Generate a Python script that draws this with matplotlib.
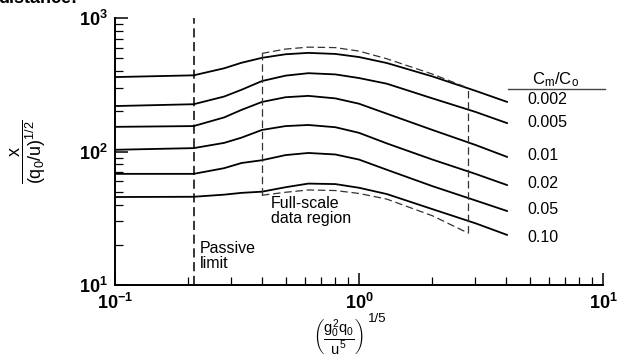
import matplotlib
matplotlib.use("Agg")
import matplotlib.pyplot as plt
import numpy as np

plt.rcParams['font.family'] = ['Liberation Sans', 'DejaVu Sans']
plt.rcParams['mathtext.fontset'] = 'custom'
plt.rcParams['mathtext.rm'] = 'Liberation Sans'
plt.rcParams['mathtext.it'] = 'Liberation Sans'
plt.rcParams['mathtext.bf'] = 'Liberation Sans:bold'

# ---- data ----
x_pts = [0.1, 0.21, 0.28, 0.33, 0.40, 0.50, 0.62, 0.80, 1.0, 1.3, 2.0, 3.0, 4.05]
ratios = ['0.002', '0.005', '0.01', '0.02', '0.05', '0.10']
y_0002 = [361, 372, 420, 462, 503, 535, 548, 538, 510, 460, 365, 285, 235]
y_0005 = [219, 226, 258, 290, 337, 370, 386, 378, 355, 322, 250, 198, 163]
y_001 = [153, 155, 180, 205, 235, 255, 261, 250, 228, 192, 145, 112, 91]
y_002 = [103, 106, 116, 127, 145, 155, 158, 152, 138, 115, 87, 68, 56]
y_005 = [68, 68, 75, 82, 86, 94, 97.5, 95, 87, 73, 55, 43, 35.8]
y_010 = [45.6, 45.8, 47.5, 49, 50, 54, 57.5, 57, 53.5, 48, 37, 29, 23.7]
curves = [y_0002, y_0005, y_001, y_002, y_005, y_010]

box_x = [0.40, 0.50, 0.62, 0.80, 1.0, 1.3, 2.0, 2.8]
box_top = [543, 585, 605, 600, 565, 495, 380, 299]
box_bot = [47, 49.5, 51.5, 51, 48.5, 44, 33, 24.5]
passive_x = 0.21

W, H = 630, 358
fig = plt.figure(figsize=(6.3, 3.58), dpi=100)
ax = fig.add_axes([115 / W, 1 - 285 / H, 488 / W, 267 / H])

for yv in curves:
    ax.plot(x_pts, yv, color='black', lw=1.3, solid_capstyle='round', solid_joinstyle='round')

dash_kw = dict(color='#333333', lw=0.9, dashes=(6, 3))
ax.plot(box_x, box_top, **dash_kw)
ax.plot(box_x, box_bot, **dash_kw)
ax.plot([box_x[0], box_x[0]], [box_bot[0], box_top[0]], **dash_kw)
ax.plot([box_x[-1], box_x[-1]], [box_bot[-1], box_top[-1]], **dash_kw)
ax.plot([passive_x, passive_x], [10, 1000], color='black', lw=1.1, dashes=(6, 3))

ax.set_xscale('log')
ax.set_yscale('log')
ax.set_xlim(0.1, 10)
ax.set_ylim(10, 1000)
for s in ['top', 'right']:
    ax.spines[s].set_visible(False)
for s in ['left', 'bottom']:
    ax.spines[s].set_linewidth(1.4)

ax.set_xticks([0.1, 1, 10])
ax.set_xticklabels([r'$\mathbf{10^{-1}}$', r'$\mathbf{10^{0}}$', r'$\mathbf{10^{1}}$'], fontsize=13)
ax.set_yticks([10, 100, 1000])
ax.set_yticklabels([r'$\mathbf{10^{1}}$', r'$\mathbf{10^{2}}$', r'$\mathbf{10^{3}}$'], fontsize=13)
ax.tick_params(axis='both', which='major', direction='in', length=9, width=1.1, pad=5)
ax.tick_params(axis='both', which='minor', direction='in', length=6, width=0.9)
ax.tick_params(axis='x', which='major', pad=6)

# labels
fig.text(28 / W, 1 - 152 / H, r'$\dfrac{x}{(q_0/u)^{1/2}}$', fontsize=13, rotation=90,
         ha='center', va='center')
fig.text(338 / W, 1 - 336 / H, r'$\left(\dfrac{g_0^2q_0}{u^5}\right)$', fontsize=10.5,
         ha='center', va='center')
fig.text(368 / W, 1 - 319 / H, '1/5', fontsize=9.5, ha='left', va='center')

# curve annotations
fig.text(556 / W, 1 - 80 / H, r'C$_\mathrm{m}$/C$_\mathrm{o}$', fontsize=12, ha='center', va='center')
fig.add_artist(plt.Line2D([508 / W, 605 / W], [1 - 89 / H, 1 - 89 / H], color='#444444', lw=1.0))
lab_y = [100, 123, 155, 183, 210, 237]
for r, py in zip(ratios, lab_y):
    fig.text(527 / W, 1 - py / H, r, fontsize=11.5, ha='left', va='center')

fig.text(271 / W, 1 - 211 / H, 'Full-scale\ndata region', fontsize=11.5, ha='left', va='center',
         linespacing=1.0)
fig.text(200 / W, 1 - 256 / H, 'Passive\nlimit', fontsize=11.5, ha='left', va='center',
         linespacing=1.0)

fig.text(-0.003, 1 - 3 / H, 'distance:', fontsize=13, fontweight='bold', ha='left', va='baseline')

fig.savefig('out.png', dpi=100)
